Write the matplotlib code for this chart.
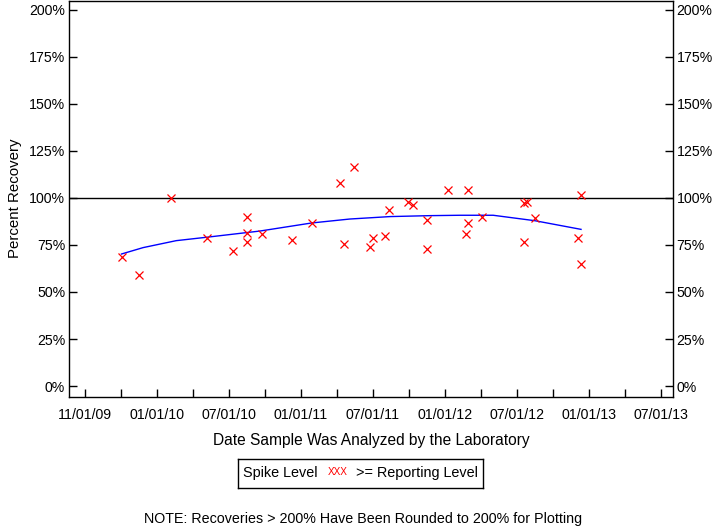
import matplotlib
matplotlib.use("Agg")
import matplotlib.pyplot as plt
from matplotlib.ticker import FixedLocator, FuncFormatter

plt.rcParams['font.family'] = ['Liberation Sans', 'DejaVu Sans']

# x positions measured in tick units (0 = first labelled tick, 1 per label)
tick_labels = ["11/01/09", "01/01/10", "07/01/10", "01/01/11", "07/01/11",
               "01/01/12", "07/01/12", "01/01/13", "07/01/13"]

x_vals = [0.51, 0.754, 1.199, 1.694, 2.051, 2.25, 2.246, 2.254, 2.458, 2.879,
          3.157, 3.542, 3.601, 3.736, 3.963, 4.004, 4.171, 4.226, 4.486, 4.560,
          4.754, 4.754, 5.046, 5.324, 5.324, 5.296, 5.518, 6.101, 6.135, 6.254,
          6.101, 6.889, 6.851, 6.893]
recovery = [68.8, 58.9, 100.2, 78.6, 71.8, 89.7, 81.4, 76.4, 80.7, 77.7,
            86.7, 107.8, 75.4, 116.3, 74.1, 78.6, 79.6, 93.6, 97.7, 96.4,
            88.1, 72.7, 104.1, 104.1, 86.9, 80.7, 89.7, 97.2, 98.0, 89.2,
            76.8, 101.6, 78.6, 64.9]

trend_x = [0.51, 0.81, 1.27, 1.69, 2.43, 3.15, 3.68, 4.24, 4.80, 5.21, 5.67, 6.25, 6.89]
trend_y = [70.2, 73.6, 77.3, 79.1, 82.4, 86.7, 88.8, 90.1, 90.6, 90.8, 90.8, 87.9, 83.3]

y_ticks = [0, 25, 50, 75, 100, 125, 150, 175, 200]

fig = plt.figure(figsize=(7.2, 5.28), dpi=100)
ax = fig.add_axes([69.3 / 720, 1 - 397.3 / 528, (672.5 - 69.3) / 720, (397.3 - 0.5) / 528])

ax.axhline(100, color='black', lw=1.0, zorder=1)
ax.plot(trend_x, trend_y, color='blue', lw=1.0, zorder=2)
ax.plot(x_vals, recovery, linestyle='none', marker='x', color='red',
        markersize=5.5, markeredgewidth=0.9, zorder=3)

ax.set_xlim(-0.215, 8.16)
ax.set_ylim(-6.0, 205.0)

ax.xaxis.set_major_locator(FixedLocator(range(len(tick_labels))))
ax.set_xticklabels(tick_labels, fontsize=10.2)
ax.xaxis.set_minor_locator(FixedLocator([i + 0.5 for i in range(len(tick_labels))]))
ax.tick_params(axis='x', which='both', direction='in', length=6, width=1, pad=8)

ax.set_yticks(y_ticks)
ax.yaxis.set_major_formatter(FuncFormatter(lambda v, p: f"{int(v)}%"))
ax.tick_params(axis='y', which='major', direction='in', length=5.5, width=1, pad=3,
               labelsize=10.2, left=True, right=True, labelleft=True, labelright=True)

for s in ax.spines.values():
    s.set_linewidth(1.0)

fig.text(15 / 720, 1 - 198 / 528, "Percent Recovery", rotation=90,
         ha='center', va='center', fontsize=10.8)
fig.text(371.5 / 720, 1 - 440 / 528, "Date Sample Was Analyzed by the Laboratory",
         ha='center', va='center', fontsize=11.2)

# legend box
bx0, bx1, by0, by1 = 237.7, 483.0, 459.0, 487.7
leg_ax = fig.add_axes([bx0 / 720, 1 - by1 / 528, (bx1 - bx0) / 720, (by1 - by0) / 528])
leg_ax.set_xlim(bx0, bx1)
leg_ax.set_ylim(by1, by0)
leg_ax.set_xticks([])
leg_ax.set_yticks([])
for s in leg_ax.spines.values():
    s.set_linewidth(1.0)
leg_ax.text(242.7, 473.5, "Spike Level", ha='left', va='center', fontsize=10.4)
leg_ax.text(327.7, 472.0, "XXX", ha='left', va='center', fontsize=7.2, color='red')
leg_ax.text(355.7, 473.5, ">= Reporting Level", ha='left', va='center', fontsize=10.4)

fig.text(363 / 720, 1 - 519 / 528, "NOTE: Recoveries > 200% Have Been Rounded to 200% for Plotting",
         ha='center', va='center', fontsize=10.3)

fig.savefig("out.png", dpi=100)
